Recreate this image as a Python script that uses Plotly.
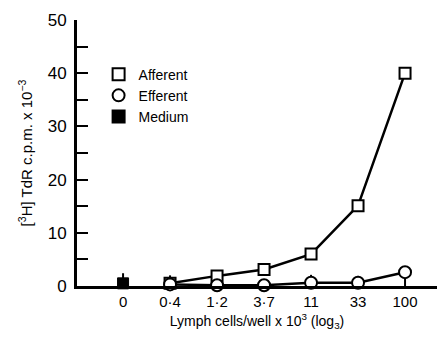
import plotly.graph_objects as go

tick_labels = ["0", "0·4", "1·2", "3·7", "11", "33", "100"]
x_pos = [0, 1, 2, 3, 4, 5, 6]

aff_x = [1, 2, 3, 4, 5, 6]
aff_y = [0.5, 1.9, 3.1, 6.0, 15.1, 40.0]
aff_err_up = [1.5, 0, 0, 0, 0, 0]

eff_x = [1, 2, 3, 4, 5, 6]
eff_y = [0.3, 0.15, 0.15, 0.6, 0.6, 2.6]
eff_err_up = [0, 0, 0, 1.5, 1.3, 0]
eff_err_down = [0, 0, 0, 0, 0, 2.6]

med_x = [0]
med_y = [0.5]
med_err_up = [1.9]

FONT = "Liberation Sans, Arial, sans-serif"

aff_marker = dict(symbol="square", size=11, color="white", line=dict(color="black", width=2))
eff_marker = dict(symbol="circle", size=12, color="white", line=dict(color="black", width=2))
med_marker = dict(symbol="square", size=11, color="black", line=dict(color="black", width=1))

fig = go.Figure()
fig.add_trace(go.Scatter(
    x=aff_x, y=aff_y, mode="lines+markers", name="Afferent", showlegend=False,
    line=dict(color="black", width=2.5), marker=aff_marker,
    error_y=dict(type="data", array=aff_err_up, arrayminus=[0]*6, symmetric=False,
                 color="black", thickness=2, width=0),
    cliponaxis=False,
))
fig.add_trace(go.Scatter(
    x=eff_x, y=eff_y, mode="lines+markers", name="Efferent", showlegend=False,
    line=dict(color="black", width=2.5), marker=eff_marker,
    error_y=dict(type="data", array=eff_err_up, arrayminus=eff_err_down, symmetric=False,
                 color="black", thickness=2, width=0),
    cliponaxis=False,
))
fig.add_trace(go.Scatter(
    x=med_x, y=med_y, mode="markers", name="Medium", showlegend=False,
    marker=med_marker,
    error_y=dict(type="data", array=med_err_up, arrayminus=[0], symmetric=False,
                 color="black", thickness=2, width=0),
    cliponaxis=False,
))
# legend entries (markers only, as in the reference)
for name, mk in [("Afferent", aff_marker), ("Efferent", eff_marker), ("Medium", med_marker)]:
    fig.add_trace(go.Scatter(x=[None], y=[None], mode="markers", name=name, marker=mk))

fig.update_layout(
    width=437, height=339,
    margin=dict(l=77, r=0, t=20, b=53),
    plot_bgcolor="white", paper_bgcolor="white",
    font=dict(family=FONT, color="black", size=14),
    showlegend=True,
    legend=dict(x=0.06, y=0.855, xanchor="left", yanchor="top",
                bgcolor="rgba(0,0,0,0)", font=dict(size=14, family=FONT),
                itemsizing="constant", tracegroupgap=0, itemwidth=30),
    xaxis=dict(
        range=[-0.98, 6.68], tickmode="array", tickvals=x_pos, ticktext=tick_labels,
        showgrid=False, zeroline=False, showline=True, linecolor="black", linewidth=3,
        ticks="", tickfont=dict(size=15, family=FONT),
        title=dict(text="Lymph cells/well x 10<sup>3</sup> (log<sub>3</sub>)",
                   font=dict(size=14, family=FONT), standoff=8),
    ),
    yaxis=dict(
        range=[0, 50], tickmode="array", tickvals=[0, 10, 20, 30, 40, 50],
        showgrid=False, zeroline=False, showline=True, linecolor="black", linewidth=3,
        ticks="inside", ticklen=11, tickwidth=2, tickcolor="black",
        minor=dict(tickvals=[5, 15, 25, 35, 45], ticks="inside", ticklen=11, tickwidth=2, tickcolor="black"),
        tickfont=dict(size=17, family=FONT), ticklabelstandoff=4,
        title=dict(text="[<sup>3</sup>H] TdR c.p.m. x 10<sup>−3</sup>",
                   font=dict(size=15, family=FONT), standoff=12),
    ),
)

fig.write_html("out.html")
